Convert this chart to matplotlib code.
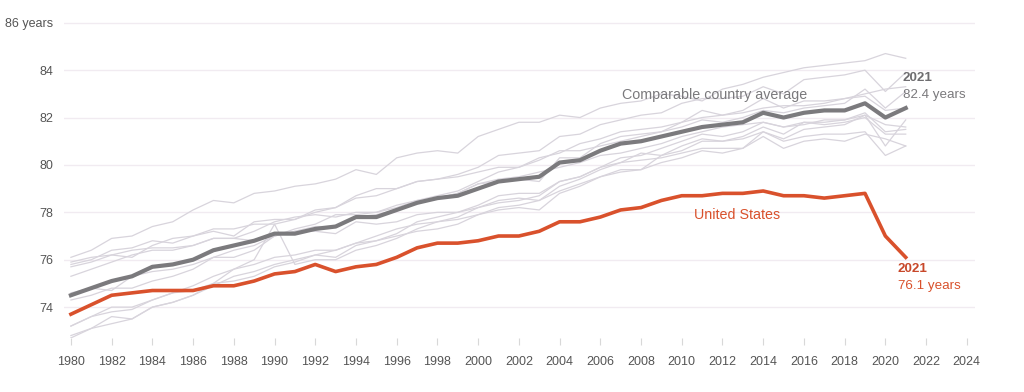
import matplotlib.pyplot as plt

years = list(range(1980, 2022))

us = [73.7, 74.1, 74.5, 74.6, 74.7, 74.7, 74.7, 74.9, 74.9, 75.1,
      75.4, 75.5, 75.8, 75.5, 75.7, 75.8, 76.1, 76.5, 76.7, 76.7,
      76.8, 77.0, 77.0, 77.2, 77.6, 77.6, 77.8, 78.1, 78.2, 78.5,
      78.7, 78.7, 78.8, 78.8, 78.9, 78.7, 78.7, 78.6, 78.7, 78.8,
      77.0, 76.1]

comparable_avg = [74.5, 74.8, 75.1, 75.3, 75.7, 75.8, 76.0, 76.4, 76.6, 76.8,
                  77.1, 77.1, 77.3, 77.4, 77.8, 77.8, 78.1, 78.4, 78.6, 78.7,
                  79.0, 79.3, 79.4, 79.5, 80.1, 80.2, 80.6, 80.9, 81.0, 81.2,
                  81.4, 81.6, 81.7, 81.8, 82.2, 82.0, 82.2, 82.3, 82.3, 82.6,
                  82.0, 82.4]

# individual comparable countries (faint lines)
countries = {
    "Japan": [76.1, 76.4, 76.9, 77.0, 77.4, 77.6, 78.1, 78.5, 78.4, 78.8,
              78.9, 79.1, 79.2, 79.4, 79.8, 79.6, 80.3, 80.5, 80.6, 80.5,
              81.2, 81.5, 81.8, 81.8, 82.1, 82.0, 82.4, 82.6, 82.7, 83.0,
              82.9, 82.7, 83.2, 83.4, 83.7, 83.9, 84.1, 84.2, 84.3, 84.4,
              84.7, 84.5],
    "Switzerland": [75.7, 75.9, 76.2, 76.1, 76.6, 76.9, 77.0, 77.3, 77.3, 77.5,
                    77.5, 77.7, 78.0, 78.2, 78.6, 78.7, 79.0, 79.3, 79.4, 79.6,
                    79.9, 80.4, 80.5, 80.6, 81.2, 81.3, 81.7, 81.9, 82.1, 82.2,
                    82.6, 82.8, 82.8, 82.9, 83.3, 83.0, 83.6, 83.7, 83.8, 84.0,
                    83.1, 83.9],
    "Sweden": [75.8, 76.0, 76.4, 76.5, 76.8, 76.7, 77.0, 77.2, 77.0, 77.6,
               77.7, 77.7, 78.1, 78.2, 78.7, 79.0, 79.0, 79.3, 79.4, 79.5,
               79.7, 79.9, 79.9, 80.2, 80.6, 80.6, 80.8, 81.0, 81.2, 81.4,
               81.6, 81.9, 81.8, 82.0, 82.3, 82.2, 82.4, 82.5, 82.6, 83.2,
               82.4, 83.1],
    "Australia": [74.6, 74.8, 74.7, 75.3, 75.5, 75.6, 75.8, 76.1, 76.1, 76.4,
                  77.0, 77.3, 77.5, 77.9, 77.9, 78.0, 78.2, 78.5, 78.7, 78.9,
                  79.3, 79.7, 79.9, 80.3, 80.5, 80.9, 81.1, 81.4, 81.5, 81.6,
                  81.8, 82.0, 82.1, 82.2, 82.4, 82.5, 82.5, 82.6, 82.8, 83.0,
                  83.2, 83.3],
    "France": [74.3, 74.5, 74.8, 74.8, 75.1, 75.3, 75.6, 76.1, 76.4, 76.6,
               77.0, 77.2, 77.4, 77.4, 77.8, 77.9, 78.1, 78.4, 78.6, 78.8,
               79.2, 79.3, 79.4, 79.3, 80.3, 80.3, 80.9, 81.2, 81.3, 81.4,
               81.8, 82.3, 82.1, 82.3, 82.8, 82.4, 82.7, 82.7, 82.8, 82.9,
               82.3, 82.4],
    "Canada": [75.3, 75.6, 75.9, 76.2, 76.4, 76.4, 76.6, 76.9, 76.9, 77.2,
               77.6, 77.8, 77.9, 77.8, 78.0, 78.0, 78.3, 78.5, 78.6, 78.8,
               79.2, 79.4, 79.5, 79.7, 79.9, 80.1, 80.4, 80.5, 80.7, 80.9,
               81.2, 81.4, 81.6, 81.7, 81.8, 81.6, 81.8, 81.8, 81.9, 82.1,
               81.7, 81.6],
    "Netherlands": [75.9, 76.1, 76.2, 76.4, 76.5, 76.5, 76.6, 76.9, 76.9, 76.8,
                    77.0, 77.2, 77.2, 77.1, 77.6, 77.5, 77.6, 77.9, 78.0, 78.0,
                    78.2, 78.4, 78.5, 78.7, 79.3, 79.5, 79.9, 80.3, 80.4, 80.7,
                    81.0, 81.3, 81.2, 81.4, 81.8, 81.6, 81.7, 81.9, 81.9, 82.2,
                    81.4, 81.5],
    "Austria": [72.7, 73.1, 73.6, 73.5, 74.0, 74.2, 74.5, 74.9, 75.3, 75.5,
                75.8, 76.0, 76.2, 76.4, 76.7, 76.8, 77.1, 77.6, 77.8, 78.0,
                78.3, 78.7, 78.8, 78.8, 79.3, 79.5, 79.9, 80.1, 80.5, 80.4,
                80.8, 81.1, 81.0, 81.2, 81.6, 81.3, 81.8, 81.7, 81.8, 82.0,
                81.3, 81.3],
    "Belgium": [73.2, 73.6, 74.0, 74.0, 74.3, 74.6, 74.9, 75.3, 75.6, 75.8,
                76.1, 76.2, 76.4, 76.4, 76.7, 77.0, 77.3, 77.5, 77.6, 77.7,
                77.9, 78.1, 78.2, 78.1, 78.8, 79.1, 79.5, 79.7, 79.8, 80.1,
                80.3, 80.6, 80.5, 80.7, 81.4, 81.1, 81.5, 81.6, 81.7, 82.1,
                80.8, 81.9],
    "United Kingdom": [73.2, 73.6, 73.8, 73.9, 74.3, 74.6, 74.7, 75.0, 75.1, 75.3,
                       75.7, 75.9, 76.2, 76.1, 76.6, 76.8, 77.0, 77.2, 77.3, 77.5,
                       77.9, 78.2, 78.3, 78.5, 78.9, 79.2, 79.5, 79.8, 79.8, 80.4,
                       80.6, 81.0, 81.0, 81.1, 81.4, 81.0, 81.2, 81.3, 81.3, 81.4,
                       80.4, 80.8],
    "Germany": [72.8, 73.1, 73.3, 73.5, 74.0, 74.2, 74.5, 75.0, 75.6, 76.0,
                77.5, 75.8, 76.0, 76.0, 76.4, 76.6, 76.9, 77.3, 77.6, 77.8,
                78.2, 78.5, 78.6, 78.5, 79.1, 79.4, 79.8, 80.1, 80.2, 80.3,
                80.5, 80.7, 80.7, 80.7, 81.2, 80.7, 81.0, 81.1, 81.0, 81.3,
                81.1, 80.8],
}

y_ticks = [74, 76, 78, 80, 82, 84, 86]
y_labels = ["74", "76", "78", "80", "82", "84", "86 years"]
x_ticks = list(range(1980, 2025, 2))

gray_text = "#7a797c"
red = "#d9512c"

plt.rcParams["font.family"] = ["Liberation Sans", "DejaVu Sans"]

fig = plt.figure(figsize=(10.24, 3.92), dpi=100)
ax = fig.add_axes([0.0625, 0.138, 0.8896, 0.81])

for name, vals in countries.items():
    ax.plot(years, vals, color="#d8d4dc", lw=0.9, zorder=2)

ax.plot(years, comparable_avg, color="#7b7a7d", lw=3, zorder=3)
ax.plot(years, us, color=red, lw=2.6, zorder=4)

ax.set_xlim(1979.66, 2024.4)
ax.set_ylim(72.7, 86.1)

ax.set_yticks(y_ticks)
ax.set_yticklabels(y_labels)
ax.set_xticks(x_ticks)
ax.set_xticklabels([str(x) for x in x_ticks])

ax.grid(axis="y", color="#f1ebf1", lw=1, zorder=0)
for s in ax.spines.values():
    s.set_visible(False)
ax.tick_params(axis="y", length=0, pad=8, labelsize=9, labelcolor="#555555")
ax.tick_params(axis="x", length=5, width=0.8, color="#d8d8d8", pad=8,
               labelsize=9, labelcolor="#555555")

# annotations
ax.text(2011.6, 82.95, "Comparable country average", color=gray_text,
        fontsize=10.3, ha="center", va="center", zorder=5)
ax.text(2012.7, 77.9, "United States", color=red, fontsize=10.3,
        ha="center", va="center", zorder=5)

ax.text(2020.85, 83.65, "2021", color="#6e6d70", fontsize=9.6,
        fontweight="bold", ha="left", va="center")
ax.text(2020.85, 82.95, "82.4 years", color=gray_text, fontsize=9.6,
        ha="left", va="center")
ax.text(2020.6, 75.6, "2021", color="#c8482a", fontsize=9.6,
        fontweight="bold", ha="left", va="center")
ax.text(2020.6, 74.9, "76.1 years", color=red, fontsize=9.6,
        ha="left", va="center")

plt.savefig("out.png", dpi=100, facecolor="white")
